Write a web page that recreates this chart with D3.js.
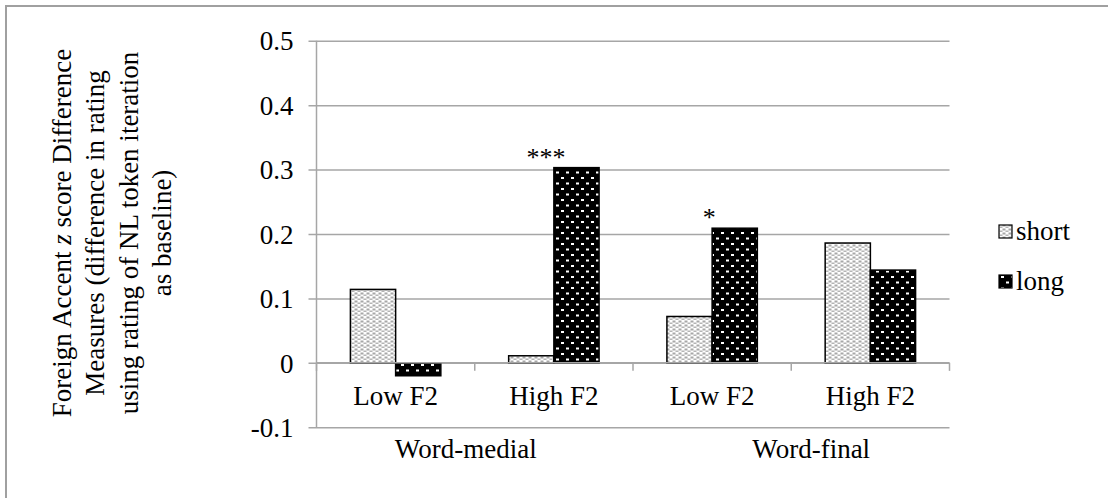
<!DOCTYPE html>
<html>
<head>
<meta charset="utf-8">
<script src="https://cdn.jsdelivr.net/npm/d3@7"></script>
<style>
  html, body { margin: 0; padding: 0; background: #fff; }
  svg { display: block; }
</style>
</head>
<body>
<svg id="chart" width="1108" height="498"></svg>
<script>
// Category labels (inner level) and their outer grouping
const categories = ["Low F2", "High F2", "Low F2", "High F2"];
const categoryGroups = ["Word-medial", "Word-medial", "Word-final", "Word-final"];
const groups = ["Word-medial", "Word-final"];

// Series values
const seriesNames = ["short", "long"];
const shortValues = [0.114, 0.011, 0.072, 0.186];
const longValues = [-0.020, 0.303, 0.209, 0.144];

// Significance markers on the long bars
const longSignificance = ["", "***", "*", ""];

// Y axis ticks
const yTicks = [-0.1, 0, 0.1, 0.2, 0.3, 0.4, 0.5];
const yTickLabels = ["-0.1", "0", "0.1", "0.2", "0.3", "0.4", "0.5"];

const FONT = "'Liberation Serif', 'DejaVu Serif', 'Times New Roman', serif";
const svg = d3.select("#chart").style("font-family", FONT);
const W = 1108, H = 498;
const plot = { left: 316.5, right: 949.5, top: 40.7, bottom: 427.3 };
const gridColor = "#a6a6a6";
const fontSize = 27;

// Patterns
const defs = svg.append("defs");
const pShort = defs.append("pattern").attr("id", "pat-short")
  .attr("patternUnits", "userSpaceOnUse").attr("width", 6).attr("height", 4);
pShort.append("rect").attr("width", 6).attr("height", 4).attr("fill", "#fff");
pShort.append("rect").attr("x", 0.5).attr("y", 0.5).attr("width", 3).attr("height", 2).attr("fill", "#a8a8a8");
pShort.append("rect").attr("x", 3.5).attr("y", 2.5).attr("width", 3).attr("height", 2).attr("fill", "#b4b4b4");
pShort.append("rect").attr("x", -2.5).attr("y", 2.5).attr("width", 3).attr("height", 2).attr("fill", "#b4b4b4");

const pLong = defs.append("pattern").attr("id", "pat-long")
  .attr("patternUnits", "userSpaceOnUse").attr("width", 10).attr("height", 11);
pLong.append("rect").attr("width", 10).attr("height", 11).attr("fill", "#000");
pLong.append("rect").attr("x", 1).attr("y", 1).attr("width", 3).attr("height", 2).attr("fill", "#fff");
pLong.append("rect").attr("x", 6).attr("y", 6.5).attr("width", 3).attr("height", 2).attr("fill", "#fff");

// Outer frame
svg.append("rect").attr("x", 6).attr("y", 6).attr("width", W).attr("height", H)
  .attr("fill", "none").attr("stroke", "#a0a0a0").attr("stroke-width", 2);

// Scales
const catIds = categories.map((c, i) => i);
const x0 = d3.scaleBand().domain(catIds).range([plot.left, plot.right]).padding(0);
const x1 = d3.scaleBand().domain(seriesNames).range([0, x0.bandwidth()])
  .paddingInner(0).paddingOuter(0.75);
const y = d3.scaleLinear().domain([-0.1, 0.5]).range([plot.bottom, plot.top]);

// Horizontal gridlines with short outward ticks
const yAxis = d3.axisLeft(y).tickValues(yTicks)
  .tickSize(-(plot.right - plot.left)).tickSizeOuter(0)
  .tickFormat((d, i) => yTickLabels[i]).tickPadding(23);
const gy = svg.append("g").attr("transform", `translate(${plot.left},0)`).call(yAxis)
  .attr("font-family", FONT).attr("font-size", fontSize);
gy.select(".domain").remove();
gy.selectAll(".tick line").attr("stroke", gridColor).attr("stroke-width", 1.5)
  .attr("x1", -8);
gy.selectAll(".tick text").attr("fill", "#000").attr("dy", "0.34em");

// Vertical value axis line
svg.append("line").attr("x1", plot.left).attr("x2", plot.left)
  .attr("y1", plot.top).attr("y2", plot.bottom)
  .attr("stroke", gridColor).attr("stroke-width", 1.5);

// Bars
const rows = catIds.map(i => ({ i, short: shortValues[i], long: longValues[i], sig: longSignificance[i] }));
const fills = { short: "url(#pat-short)", long: "url(#pat-long)" };
const gBars = svg.append("g");
rows.forEach(r => {
  seriesNames.forEach(s => {
    const v = r[s];
    gBars.append("rect")
      .attr("x", x0(r.i) + x1(s))
      .attr("y", y(Math.max(0, v)))
      .attr("width", x1.bandwidth())
      .attr("height", Math.abs(y(v) - y(0)))
      .attr("fill", fills[s])
      .attr("stroke", "#000").attr("stroke-width", 1.5);
  });
});

// Category axis at zero with boundary ticks
const zeroY = y(0);
svg.append("line").attr("x1", plot.left).attr("x2", plot.right)
  .attr("y1", zeroY).attr("y2", zeroY).attr("stroke", gridColor).attr("stroke-width", 1.5);
const boundaries = catIds.map(i => x0(i)).concat([x0(catIds[catIds.length - 1]) + x0.bandwidth()]);
svg.append("g").selectAll("line").data(boundaries).join("line")
  .attr("x1", d => d).attr("x2", d => d)
  .attr("y1", zeroY).attr("y2", zeroY + 8)
  .attr("stroke", gridColor).attr("stroke-width", 1.5);

// Inner category labels
svg.append("g").selectAll("text").data(catIds).join("text")
  .attr("x", i => x0(i) + x0.bandwidth() / 2)
  .attr("y", 405)
  .attr("text-anchor", "middle")
  .attr("font-size", fontSize)
  .text(i => categories[i]);

// Outer group labels
const groupOffsets = [-9, 20];
groups.forEach((g, gi) => {
  const idx = catIds.filter(i => categoryGroups[i] === g);
  const cx = (x0(idx[0]) + x0(idx[idx.length - 1]) + x0.bandwidth()) / 2;
  svg.append("text")
    .attr("x", cx + groupOffsets[gi]).attr("y", 458)
    .attr("text-anchor", "middle").attr("font-size", fontSize)
    .text(g);
});

// Significance markers
rows.filter(r => r.sig).forEach(r => {
  const cx = x0(r.i) + x1("long") - 6 + (r.sig.length === 1 ? 3 : -2);
  svg.append("text")
    .attr("x", cx).attr("y", y(r.long) - 2)
    .attr("text-anchor", "middle").attr("font-size", 26)
    .text(r.sig);
});

// Legend
const legend = svg.append("g");
seriesNames.forEach((s, i) => {
  const ly = 232 + i * 50;
  legend.append("rect").attr("x", 999).attr("y", ly - 7).attr("width", 13).attr("height", 13)
    .attr("fill", fills[s]).attr("stroke", "#000").attr("stroke-width", 1.2);
  legend.append("text").attr("x", 1016).attr("y", ly + 8)
    .attr("font-size", fontSize).text(s);
});

// Y axis title
const title = svg.append("text")
  .attr("transform", "translate(112,233) rotate(-90)")
  .attr("text-anchor", "middle").attr("font-size", fontSize);
const titleLines = [
  [["Foreign Accent ", false], ["z", true], [" score Difference", false]],
  [["Measures (difference in rating", false]],
  [["using rating of NL token iteration", false]],
  [["as baseline)", false]]
];
titleLines.forEach((parts, li) => {
  parts.forEach((p, pi) => {
    const ts = title.append("tspan").text(p[0]);
    if (pi === 0) ts.attr("x", 0).attr("y", (li - 1.5) * 33.5 + 9);
    if (p[1]) ts.attr("font-style", "italic");
  });
});
</script>
</body>
</html>
